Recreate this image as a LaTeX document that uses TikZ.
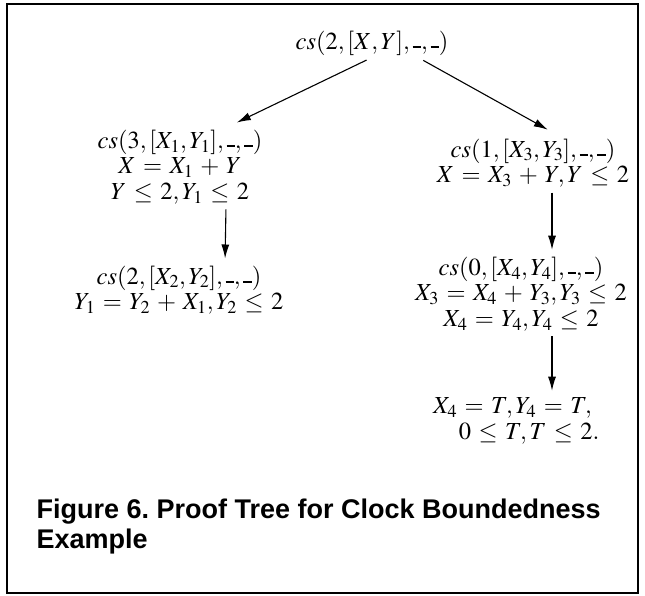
\documentclass[tikz,border=0pt]{standalone}
\usepackage[no-math]{fontspec}
\newfontfamily\captionfont{Liberation Sans}
\usepackage{mathptmx}
\usetikzlibrary{arrows.meta}
\newcommand{\anon}{\rule[0.06em]{0.34em}{0.07em}}
\thickmuskip=5.5mu plus 5mu
\medmuskip=5mu plus 2mu minus 4mu

\begin{document}
\begin{tikzpicture}[x=1pt,y=-1pt,>={Latex[length=14pt,width=8pt]},
  goal/.style={align=center,inner sep=2pt,font=\fontsize{24.5}{25.5}\selectfont},
  edge/.style={->,line width=1.1pt}]
\useasboundingbox (0,0) rectangle (645,596);
\draw[line width=2.5pt] (7,4) rectangle (638,593);
% root of the tree
\node[goal] (root) at (372,43) {$cs(2,[X,Y],\anon,\anon)$};
% left branch
\node[goal] (left1) at (180,167) {$cs(3,[X_1,Y_1],\anon,\anon)$\\ $X=X_1+Y$\\ $Y\leq 2,Y_1\leq 2$};
\node[goal] (left2) at (179,290) {$cs(2,[X_2,Y_2],\anon,\anon)$\\ $Y_1=Y_2+X_1,Y_2\leq 2$};
% right branch
\node[goal] (right1) at (533,163) {$cs(1,[X_3,Y_3],\anon,\anon)$\\ $X=X_3+Y,Y\leq 2$};
\node[goal] (right2) at (521,294) {$cs(0,[X_4,Y_4],\anon,\anon)$\\ $X_3=X_4+Y_3,Y_3\leq 2$\\ $X_4=Y_4,Y_4\leq 2$};
\node[goal,align=left,anchor=west] (right3) at (431,421) {$X_4=T,Y_4=T,$\\ \hspace*{1.05em}$0\leq T,T\leq 2.$};
\coordinate (right2out) at ([xshift=31pt]right2.south);
\draw[edge,shorten <=6pt,shorten >=12pt] (root.south) -- ([xshift=46pt]left1.north);
\draw[edge,shorten <=6pt,shorten >=14pt] ([xshift=46pt]root.south) -- ([xshift=27pt]right1.north);
\draw[edge,shorten <=3pt,shorten >=5pt] ([xshift=46pt]left1.south) -- ([xshift=46pt]left2.north);
\draw[edge,shorten <=3pt,shorten >=5pt] ([xshift=19pt]right1.south) -- ([xshift=31pt]right2.north);
\draw[edge,shorten <=3pt,shorten >=5pt] (right2out) -- (right2out |- right3.north);
\node[anchor=west,align=left,font=\captionfont\bfseries\frenchspacing\fontsize{27}{30}\selectfont] (caption) at (33,527)
  {Figure 6. Proof Tree for Clock Boundedness\\Example};
\end{tikzpicture}
\end{document}
